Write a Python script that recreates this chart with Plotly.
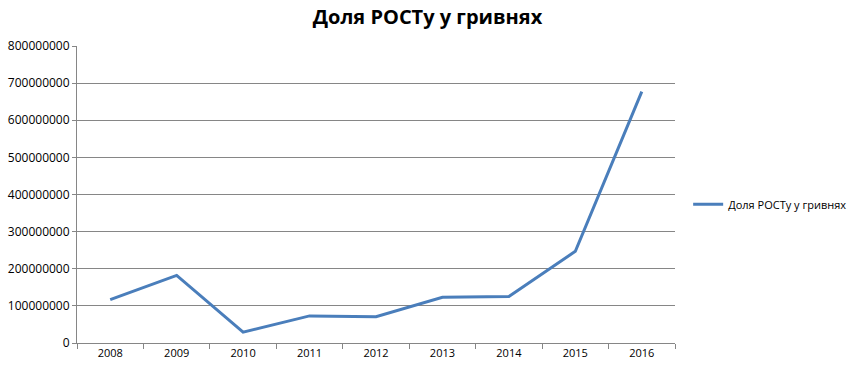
import plotly.graph_objects as go

years = ["2008", "2009", "2010", "2011", "2012", "2013", "2014", "2015", "2016"]
values = [117000000, 182000000, 29000000, 73000000, 71000000, 123000000, 125000000, 247000000, 677000000]
series_name = "Доля РОСТу у гривнях"
title_text = "Доля РОСТу у гривнях"
y_ticks = [0, 100000000, 200000000, 300000000, 400000000, 500000000, 600000000, 700000000, 800000000]

fig = go.Figure()
fig.add_trace(go.Scatter(
    x=years, y=values, mode="lines", name=series_name,
    line=dict(color="#4A7EBB", width=3),
))

fig.update_layout(
    width=855, height=371,
    margin=dict(l=77, r=180, t=46, b=28, autoexpand=False),
    paper_bgcolor="white", plot_bgcolor="white",
    font=dict(family="Open Sans, DejaVu Sans, sans-serif", size=11, color="#000000"),
    title=dict(text="<b>" + title_text + "</b>", x=0.5, xanchor="center", y=0.953, yanchor="middle",
               font=dict(size=20, family="Open Sans, sans-serif", color="#000000")),
    showlegend=True,
    legend=dict(x=1.022, xanchor="left", y=0.467, yanchor="middle",
                font=dict(size=11), itemwidth=30, bgcolor="rgba(0,0,0,0)"),
)
fig.update_xaxes(
    type="category", showgrid=False, showline=True, linecolor="#868686", linewidth=1,
    ticks="outside", tickson="boundaries", ticklen=5, tickcolor="#868686",
    tickfont=dict(size=11), range=[-0.5, 8.5], automargin=False,
)
fig.update_yaxes(
    range=[0, 800000000], tickvals=y_ticks, ticktext=[str(v) for v in y_ticks],
    showgrid=True, gridcolor="#868686", gridwidth=1, zeroline=False,
    showline=True, linecolor="#868686", linewidth=1,
    ticks="outside", ticklen=4, tickcolor="#868686", tickfont=dict(size=12),
    automargin=False,
)

fig.write_html("out.html", config={"displayModeBar": False},
               post_script="document.body.style.margin='0';")
